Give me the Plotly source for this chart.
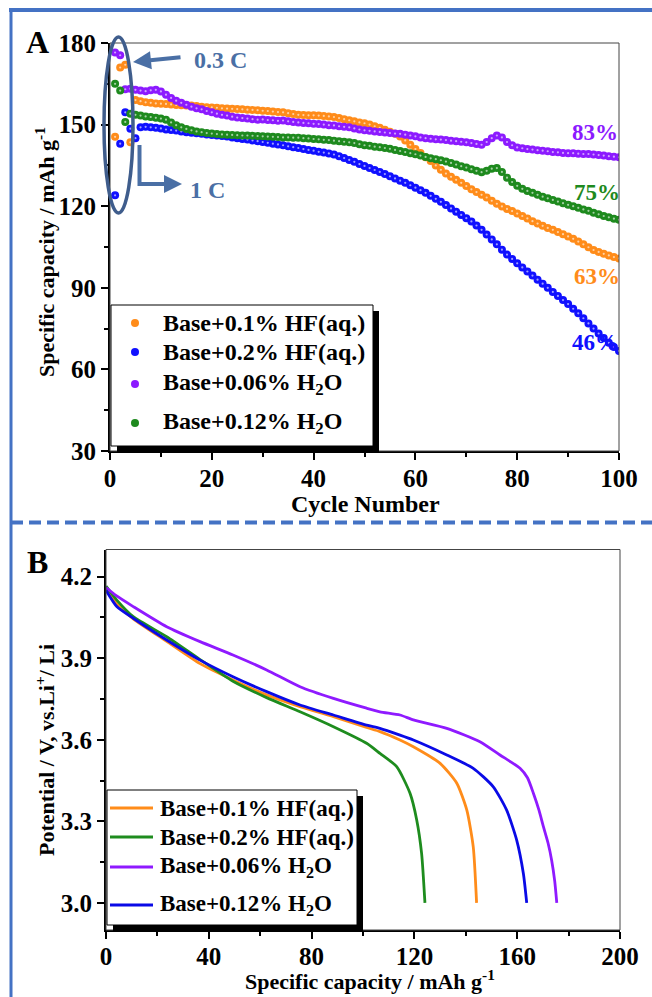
import plotly.graph_objects as go

W, H = 652, 997
def px(x): return x / W
def py(y): return 1 - y / H

# ---------------- Panel A data (cycle performance) ----------------
cycles = list(range(1, 101))
cap_hf01 = [145.5,171.0,172.0,143.5,159.0,158.6,158.2,158.0,157.8,157.7,
            157.6,157.4,157.2,157.1,157.0,157.0,156.8,156.6,156.4,156.3,
            156.2,156.0,155.9,155.8,155.7,155.6,155.5,155.4,155.3,155.1,
            155.0,154.8,154.6,154.5,154.2,153.9,153.6,153.5,153.4,153.4,
            153.3,153.2,153.0,152.8,152.4,152.0,151.6,151.2,150.8,150.5,
            150.0,149.4,148.8,148.1,147.4,146.6,145.6,144.2,142.6,141.0,
            139.6,138.0,136.6,135.0,133.4,132.0,130.8,129.7,128.6,127.4,
            126.2,125.2,124.2,123.2,122.0,120.9,119.9,119.0,118.2,117.3,
            116.4,115.5,114.5,113.6,112.8,112.0,111.3,110.5,109.7,108.9,
            108.0,107.0,106.0,104.9,103.9,103.2,102.5,101.9,101.3,100.8]
cap_hf02 = [124.0,143.0,154.5,148.5,145.0,149.0,149.2,149.0,148.8,148.6,
            148.2,148.0,147.8,147.5,147.2,147.0,146.8,146.6,146.4,146.2,
            146.0,145.8,145.6,145.3,145.0,144.7,144.5,144.2,143.9,143.6,
            143.3,143.0,142.7,142.4,142.0,141.7,141.4,141.0,140.7,140.4,
            140.0,139.7,139.4,139.0,138.4,137.7,137.0,136.3,135.5,134.8,
            134.0,133.3,132.6,131.8,131.0,130.2,129.4,128.6,127.7,126.8,
            125.9,124.9,123.8,122.7,121.6,120.4,119.2,118.0,116.8,115.6,
            114.4,112.9,111.3,109.6,107.8,106.0,104.0,102.2,100.6,99.0,
            97.5,96.0,94.5,93.0,91.5,90.0,88.5,87.0,85.5,84.0,
            82.3,80.6,78.8,76.9,75.0,73.2,71.5,69.8,68.2,66.8]
cap_h2o006 = [176.5,175.5,163.0,163.2,162.8,162.5,162.3,162.6,162.8,162.2,
              161.0,159.8,158.8,158.0,157.3,156.6,156.0,155.6,155.0,154.5,
              154.0,153.6,153.3,152.9,152.6,152.4,152.2,152.0,151.8,151.9,
              151.7,151.6,151.4,151.5,151.2,151.0,150.8,150.6,150.5,150.3,
              150.2,150.0,149.8,149.7,149.4,149.2,149.0,148.6,148.2,147.9,
              147.7,147.5,147.3,147.1,146.9,146.7,146.6,146.3,146.0,145.7,
              145.3,145.0,144.8,144.6,144.5,144.3,144.1,143.9,143.7,143.5,
              143.2,142.9,142.6,143.6,145.0,146.0,145.3,143.6,142.4,141.6,
              141.3,141.0,140.8,140.6,140.4,140.2,139.9,139.8,139.6,139.5,
              139.5,139.3,139.2,139.2,139.0,138.8,138.6,138.4,138.2,138.0]
cap_h2o012 = [165.0,162.5,151.0,154.0,153.6,153.3,153.0,152.8,152.5,152.2,
              151.8,150.8,149.8,149.0,148.4,147.9,147.5,147.2,146.9,146.7,
              146.5,146.4,146.3,146.2,146.1,146.0,146.0,145.9,145.8,145.7,
              145.6,145.5,145.4,145.3,145.3,145.2,145.2,145.0,144.9,144.7,
              144.6,144.4,144.3,144.1,143.9,143.7,143.5,143.2,142.8,142.4,
              142.2,141.9,141.7,141.4,141.1,140.7,140.3,139.9,139.5,139.1,
              138.6,138.1,137.6,137.3,136.9,136.4,135.9,135.3,134.7,134.2,
              133.6,133.0,132.5,133.0,133.8,134.0,132.6,130.5,128.9,127.5,
              126.4,125.6,124.9,124.2,123.5,122.9,122.3,121.7,121.1,120.5,
              120.0,119.4,118.8,118.3,117.6,117.0,116.4,115.9,115.4,115.0]

names_a = ["Base+0.1% HF(aq.)", "Base+0.2% HF(aq.)",
           "Base+0.06% H<sub>2</sub>O", "Base+0.12% H<sub>2</sub>O"]
colors_a = ["#FF8C1A", "#1010FF", "#8C1AFF", "#1E8A1E"]
values_a = [cap_hf01, cap_hf02, cap_h2o006, cap_h2o012]
retention_labels = ["63%", "46%", "83%", "75%"]

# ---------------- Panel B data (discharge curves) ----------------
b_cap_hf01 = [0, 4.2, 10.6, 23.6, 36.6, 49.4, 62.5, 75.5, 88.5, 101.4, 106.6, 114.4, 119.6, 130.0, 136.5, 140.4, 142.9, 144.2]
b_v_hf01 = [4.16, 4.10, 4.045, 3.962, 3.88, 3.82, 3.765, 3.722, 3.685, 3.645, 3.63, 3.599, 3.574, 3.513, 3.44, 3.341, 3.206, 3.0]
b_cap_hf02 = [0, 4.2, 10.6, 23.6, 36.6, 49.4, 62.5, 75.5, 88.5, 101.4, 106.6, 113.1, 118.3, 120.9, 122.8, 124.1]
b_v_hf02 = [4.165, 4.114, 4.053, 3.979, 3.895, 3.815, 3.755, 3.703, 3.648, 3.587, 3.55, 3.501, 3.403, 3.305, 3.182, 3.0]
b_cap_h2o006 = [0, 4.0, 10.6, 23.6, 36.6, 49.4, 62.5, 75.5, 88.5, 101.4, 106.6, 114.4, 119.6, 132.6, 145.5, 153.3, 161.1, 164.0, 166.3, 168.5, 170.2, 172.0, 173.4, 174.6, 175.4]
b_v_h2o006 = [4.16, 4.13, 4.09, 4.016, 3.961, 3.912, 3.857, 3.795, 3.752, 3.716, 3.703, 3.691, 3.673, 3.642, 3.593, 3.544, 3.495, 3.46, 3.403, 3.34, 3.28, 3.22, 3.157, 3.08, 3.0]
b_cap_h2o012 = [0, 4.2, 10.6, 23.6, 36.6, 49.4, 62.5, 75.5, 88.5, 101.4, 106.6, 114.4, 119.6, 132.6, 142.9, 150.7, 155.9, 159.8, 162.4, 163.7]
b_v_h2o012 = [4.15, 4.09, 4.047, 3.967, 3.893, 3.832, 3.777, 3.728, 3.691, 3.654, 3.642, 3.617, 3.599, 3.544, 3.495, 3.427, 3.341, 3.231, 3.108, 3.0]

names_b = ["Base+0.1% HF(aq.)", "Base+0.2% HF(aq.)",
           "Base+0.06% H<sub>2</sub>O", "Base+0.12% H<sub>2</sub>O"]
colors_b = ["#FF8C1A", "#1E8C1E", "#8F1AFF", "#0A0AE6"]
caps_b = [b_cap_hf01, b_cap_hf02, b_cap_h2o006, b_cap_h2o012]
volts_b = [b_v_hf01, b_v_hf02, b_v_h2o006, b_v_h2o012]

FONT = "Liberation Serif"
fig = go.Figure()

for name, vals, col in zip(names_a, values_a, colors_a):
    fig.add_trace(go.Scatter(x=cycles, y=vals, mode="markers", name=name, showlegend=False,
                             marker=dict(size=8, color=col, line=dict(width=0)),
                             xaxis="x", yaxis="y"))
    fig.add_trace(go.Scatter(x=cycles, y=vals, mode="markers", showlegend=False,
                             hoverinfo="skip",
                             marker=dict(size=2.2, color="rgba(255,255,255,0.6)"),
                             xaxis="x", yaxis="y"))

for name, c, v, col in zip(names_b, caps_b, volts_b, colors_b):
    fig.add_trace(go.Scatter(x=c, y=v, mode="lines", name=name, showlegend=False,
                             line=dict(color=col, width=2.8, shape="spline", smoothing=0.6),
                             xaxis="x2", yaxis="y2"))

TICKSIZE = 25
axis_common = dict(showline=True, linewidth=2, linecolor="black", ticks="outside",
                   ticklen=7, tickwidth=2, tickcolor="black", showgrid=False,
                   zeroline=False, automargin=False,
                   tickfont=dict(size=TICKSIZE, color="black", family=FONT, weight="bold"))

fig.update_layout(
    template="none",
    width=W, height=H, autosize=False,
    margin=dict(l=0, r=0, t=0, b=0, pad=0, autoexpand=False),
    paper_bgcolor="white", plot_bgcolor="white",
    font=dict(family=FONT, color="black", weight="bold"),
    showlegend=False,
    xaxis=dict(domain=[px(110), px(619)], range=[0, 100], dtick=20, tick0=0,
               anchor="y", ticklabelstandoff=-3,
               minor=dict(ticks="outside", ticklen=4, tickwidth=2, dtick=10, tickcolor="black"),
               **axis_common),
    yaxis=dict(domain=[py(451), py(43)], range=[30, 180], dtick=30, tick0=30,
               anchor="x", minor=dict(ticks="outside", ticklen=4, tickwidth=2, dtick=15, tickcolor="black"),
               **axis_common),
    xaxis2=dict(domain=[px(106), px(620)], range=[0, 200], dtick=40, tick0=0,
                anchor="y2", ticklabelstandoff=-4,
                minor=dict(ticks="outside", ticklen=4, tickwidth=2, dtick=20, tickcolor="black"),
                **axis_common),
    yaxis2=dict(domain=[py(930), py(549.5)], range=[2.9, 4.3], dtick=0.3, tick0=3.0,
                tickformat=".1f", anchor="x2",
                minor=dict(ticks="outside", ticklen=4, tickwidth=2, dtick=0.15, tick0=3.0, tickcolor="black"),
                **axis_common),
)

FRAME = "#4472C4"
ARROWC = "#4A6FA5"
shapes = [
    # thin plot boxes
    dict(type="rect", xref="x domain", yref="y domain", x0=0, x1=1, y0=0, y1=1,
         line=dict(color="#444", width=1)),
    dict(type="rect", xref="x2 domain", yref="y2 domain", x0=0, x1=1, y0=0, y1=1,
         line=dict(color="#444", width=1)),
    # legend A shadow + box
    dict(type="rect", xref="paper", yref="paper", x0=px(117), x1=px(379), y0=py(452), y1=py(311),
         fillcolor="black", line=dict(width=0)),
    dict(type="rect", xref="paper", yref="paper", x0=px(111), x1=px(373), y0=py(446), y1=py(305),
         fillcolor="white", line=dict(color="black", width=1)),
    # legend B shadow + box
    dict(type="rect", xref="paper", yref="paper", x0=px(113), x1=px(363), y0=py(931), y1=py(796),
         fillcolor="black", line=dict(width=0)),
    dict(type="rect", xref="paper", yref="paper", x0=px(107), x1=px(357), y0=py(925), y1=py(790),
         fillcolor="white", line=dict(color="black", width=1)),
    # ellipse around first cycles
    dict(type="circle", xref="paper", yref="paper", x0=px(104), x1=px(133), y0=py(213), y1=py(37),
         line=dict(color="#3F5D8C", width=3.5)),
    # 1 C elbow (vertical part)
    dict(type="line", xref="paper", yref="paper", x0=px(139.5), x1=px(139.5), y0=py(145), y1=py(186),
         line=dict(color=ARROWC, width=4)),
    # blue frame
    dict(type="line", xref="paper", yref="paper", x0=px(9), x1=1, y0=py(10), y1=py(10),
         line=dict(color=FRAME, width=4)),
    dict(type="line", xref="paper", yref="paper", x0=px(11), x1=px(11), y0=py(8), y1=0,
         line=dict(color=FRAME, width=3)),
    dict(type="line", xref="paper", yref="paper", x0=px(11), x1=1, y0=py(522.5), y1=py(522.5),
         line=dict(color=FRAME, width=4, dash="12px,6px")),
]

ann = []
def text(t, x, y, size, color="black", angle=0, xanchor="center"):
    ann.append(dict(text=t, x=px(x), y=py(y), xref="paper", yref="paper", showarrow=False,
                    xanchor=xanchor, yanchor="middle", textangle=angle,
                    font=dict(size=size, color=color, family=FONT, weight="bold")))

# legend A (marker keys)
legend_a_rows = [323, 352, 384, 423]
for name, col, yy in zip(names_a, colors_a, legend_a_rows):
    shapes.append(dict(type="circle", xref="paper", yref="paper",
                       x0=px(131), x1=px(139), y0=py(yy + 4), y1=py(yy - 4),
                       fillcolor=col, line=dict(width=0)))
    text(name, 161, yy, 24, xanchor="left")

# legend B (line keys)
legend_b_rows = [808, 837, 867, 905]
for name, col, yy in zip(names_b, colors_b, legend_b_rows):
    shapes.append(dict(type="line", xref="paper", yref="paper",
                       x0=px(110), x1=px(153), y0=py(yy), y1=py(yy),
                       line=dict(color=col, width=3)))
    text(name, 158, yy, 23, xanchor="left")

fig.update_layout(shapes=shapes)

text("A", 37, 42, 32)
text("B", 37, 562, 32)
text("Cycle Number", 365, 504, 24)
text("Specific capacity / mAh g<sup>-1</sup>", 45, 252, 22, angle=-90)
text("Specific capacity / mAh g<sup>-1</sup>", 370, 980, 22)
text("Potential / V, vs.Li<sup>+</sup>/ Li", 45, 750, 22, angle=-90)
text("0.3 C", 220, 60, 24, ARROWC)
text("1 C", 207, 190, 24, ARROWC)
label_pos = [(597, 277), (595, 343), (595, 132), (597, 193)]
for lab, (lx, ly), col in zip(retention_labels, label_pos, colors_a):
    text(lab, lx, ly, 23, col)

# arrows
ann.append(dict(text="", x=px(133), y=py(62), xref="paper", yref="paper", showarrow=True,
                ax=49, ay=-5, arrowhead=2, arrowsize=0.9, arrowwidth=4, arrowcolor=ARROWC,
                standoff=0, startstandoff=0))
ann.append(dict(text="", x=px(182), y=py(184), xref="paper", yref="paper", showarrow=True,
                ax=-43, ay=0, arrowhead=2, arrowsize=0.9, arrowwidth=4, arrowcolor=ARROWC,
                standoff=0, startstandoff=0))
fig.update_layout(annotations=ann)

fig.write_html("out.html", post_script="document.body.style.margin='0px';")
